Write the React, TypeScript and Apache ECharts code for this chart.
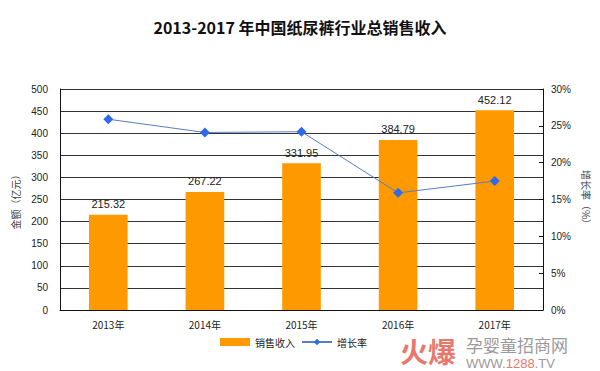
import React, { useEffect, useRef } from "react";
import * as echarts from "echarts";

const categories = ["2013年", "2014年", "2015年", "2016年", "2017年"];
const salesValues = [215.32, 267.22, 331.95, 384.79, 452.12];
const growthValues = [25.9, 24.1, 24.2, 15.9, 17.5];
const leftTicks = [0, 500, 50];
const rightTicks = [0, 30, 5];

export default function App() {
  const ref = useRef<HTMLDivElement>(null);
  useEffect(() => {
    if (!ref.current) return;
    const chart = echarts.init(ref.current, null, { renderer: "svg" });
    const font = "'Liberation Sans', Arial, sans-serif";
    const cjk = "'Noto Sans CJK SC', sans-serif";
    chart.setOption({
      animation: false,
      backgroundColor: "#fff",
      title: {
        text: "2013-2017 年中国纸尿裤行业总销售收入",
        left: "center",
        top: 14,
        textStyle: { fontSize: 16, fontWeight: "bold", color: "#111", fontFamily: cjk },
      },
      legend: {
        top: 332,
        left: 215,
        itemGap: 6,
        textStyle: { fontSize: 10, color: "#222", fontFamily: cjk },
        data: [
          { name: "销售收入", icon: "rect", itemStyle: { color: "#FF9900" } },
          { name: "增长率" },
        ],
        itemWidth: 30,
        itemHeight: 8,
      },
      grid: { left: 60, right: 57, top: 89, bottom: 61 },
      xAxis: {
        type: "category",
        data: categories,
        axisLine: { lineStyle: { color: "#111" } },
        axisTick: { inside: true, length: 4, lineStyle: { color: "#111" } },
        axisLabel: { fontSize: 10, color: "#222", margin: 9, fontFamily: cjk },
      },
      yAxis: [
        {
          type: "value",
          min: leftTicks[0],
          max: leftTicks[1],
          interval: leftTicks[2],
          name: "金额（亿元）",
          nameLocation: "middle",
          nameGap: 40,
          nameRotate: 90,
          nameTextStyle: { fontSize: 10, color: "#444", fontFamily: cjk },
          axisLine: { show: true, lineStyle: { color: "#111" } },
          axisTick: { show: false },
          axisLabel: { fontSize: 10, color: "#222", margin: 12, fontFamily: font },
          splitLine: { lineStyle: { color: "#333", width: 1 } },
        },
        {
          type: "value",
          min: rightTicks[0],
          max: rightTicks[1],
          interval: rightTicks[2],
          name: "增长率（%）",
          nameLocation: "middle",
          nameGap: 34,
          nameRotate: -90,
          nameTextStyle: { fontSize: 10, color: "#444", fontFamily: cjk },
          axisLine: { show: true, lineStyle: { color: "#111" } },
          axisTick: { show: true, inside: true, length: 4, lineStyle: { color: "#111" } },
          axisLabel: { fontSize: 10, color: "#222", margin: 8, formatter: "{value}%", fontFamily: font },
          splitLine: { show: false },
        },
      ],
      series: [
        {
          name: "销售收入",
          type: "bar",
          data: salesValues,
          barWidth: "40%",
          itemStyle: { color: "#FF9900" },
          label: {
            show: true,
            position: "top",
            fontSize: 11,
            color: "#222",
            fontFamily: font,
            formatter: (p: any) => p.value.toFixed(2),
          },
        },
        {
          name: "增长率",
          type: "line",
          yAxisIndex: 1,
          data: growthValues,
          symbol: "diamond",
          symbolSize: 10,
          lineStyle: { color: "#5B7DC0", width: 1 },
          itemStyle: { color: "#2F6BE8" },
        },
      ],
      graphic: [
        {
          type: "text",
          left: 400,
          top: 337,
          style: { text: "火爆", fontSize: 28, lineHeight: 28, fontWeight: "bold", fill: "#E8786C", fontFamily: cjk },
        },
        {
          type: "text",
          left: 466,
          top: 336,
          style: { text: "孕婴童招商网", fontSize: 17, lineHeight: 17, fill: "#9a9a9a", fontFamily: cjk },
        },
        {
          type: "text",
          left: 466,
          top: 357,
          style: {
            text: "WWW.{r|1288}.TV",
            fontSize: 13,
            lineHeight: 12,
            fill: "#9a9a9a",
            fontFamily: font,
            rich: { r: { fontSize: 13, lineHeight: 12, fill: "#E8786C", fontFamily: font } },
          },
        },
      ],
    });
    return () => chart.dispose();
  }, []);
  return <div ref={ref} style={{ width: 600, height: 371, position: "absolute", left: 0, top: 0 }} />;
}
